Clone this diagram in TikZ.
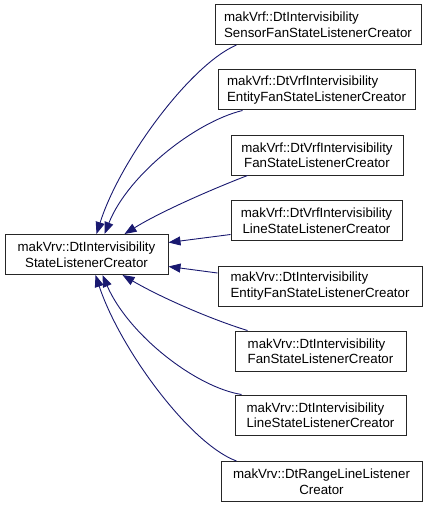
\documentclass[tikz,border=0pt]{standalone}
\usepackage{fontspec}
\setmainfont{Liberation Sans}
\usepackage{tikz}
\usepackage{xcolor}
\usetikzlibrary{arrows.meta}
\definecolor{edgeblue}{HTML}{191970}

\begin{document}
\begin{tikzpicture}[x=1pt, y=-1pt,
  font=\fontsize{13.3}{15.5}\selectfont,
  cls/.style={draw=black!85, line width=1pt, fill=white, inner sep=0pt, minimum height=40pt},
  inh/.style={draw=edgeblue, line width=0.9pt, -{Triangle[length=12pt,width=9pt,fill=edgeblue]}}]
  \useasboundingbox (0,0) rectangle (427,508);

  \node[cls, minimum width=163pt, align=center] (base) at (86.5,254.5) {makVrv::DtIntervisibility\\StateListenerCreator};
  \node[cls, minimum width=206pt, align=left] (sensorfan) at (318,24.5) {makVrf::DtIntervisibility\\SensorFanStateListenerCreator};
  \node[cls, minimum width=197pt, align=left] (vrfentityfan) at (316.5,90) {makVrf::DtVrfIntervisibility\\EntityFanStateListenerCreator};
  \node[cls, minimum width=172pt, align=center] (vrffan) at (317,155) {makVrf::DtVrfIntervisibility\\FanStateListenerCreator};
  \node[cls, minimum width=171pt, align=center] (vrfline) at (316.5,220.5) {makVrf::DtVrfIntervisibility\\LineStateListenerCreator};
  \node[cls, minimum width=204pt, align=left] (vrventityfan) at (320,286) {makVrv::DtIntervisibility\\EntityFanStateListenerCreator};
  \node[cls, minimum width=171pt, align=left] (vrvfan) at (320.5,351) {makVrv::DtIntervisibility\\FanStateListenerCreator};
  \node[cls, minimum width=171pt, align=left] (vrvline) at (320.5,415) {makVrv::DtIntervisibility\\LineStateListenerCreator};
  \node[cls, minimum width=201pt, align=center] (rangeline) at (321.5,481.5) {makVrv::DtRangeLineListener\\Creator};

  \draw[inh] ([xshift=22pt]sensorfan.south west) .. controls (190,65) and (120,160) .. ([xshift=92pt]base.north west);
  \draw[inh] ([xshift=25pt]vrfentityfan.south west) .. controls (195,122) and (128,175) .. ([xshift=100pt]base.north west);
  \draw[inh] ([xshift=17pt]vrffan.south west) .. controls (210,190) and (160,212) .. ([xshift=120pt]base.north west);
  \draw[inh] ([yshift=-14pt]vrfline.west) -- ([yshift=12pt]base.east);
  \draw[inh] ([yshift=13pt]vrventityfan.west) -- ([yshift=-12pt]base.east);
  \draw[inh] ([xshift=13pt]vrvfan.north west) .. controls (210,319) and (160,297) .. ([xshift=118pt]base.south west);
  \draw[inh] ([xshift=7pt]vrvline.north west) .. controls (195,387) and (128,334) .. ([xshift=98pt]base.south west);
  \draw[inh] ([xshift=16pt]rangeline.north west) .. controls (190,444) and (120,349) .. ([xshift=91pt]base.south west);
\end{tikzpicture}
\end{document}
